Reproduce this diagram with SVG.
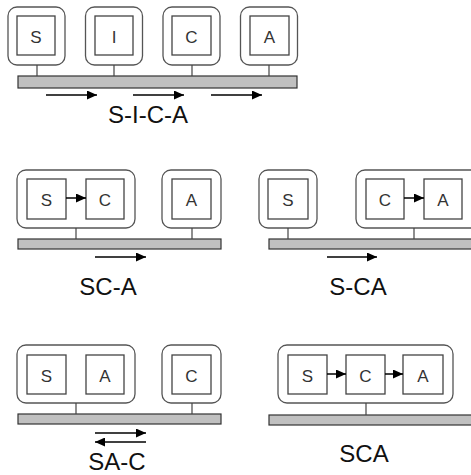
<svg xmlns="http://www.w3.org/2000/svg" width="471" height="475" viewBox="0 0 471 475">
<defs>
<marker id="ah" markerWidth="10" markerHeight="9" refX="10" refY="4.5" orient="auto" markerUnits="userSpaceOnUse">
<path d="M0,0 L10,4.5 L0,9 Z" fill="#000"/>
</marker>
<style>
.outer{fill:#fff;stroke:#555;stroke-width:1.3}
.inner{fill:#fff;stroke:#444;stroke-width:1.3}
.bar{fill:#c0c0c0;stroke:#333;stroke-width:1.2}
.stem{stroke:#444;stroke-width:1.2}
.arr{stroke:#000;stroke-width:1.5;fill:none}
.lbl{font-family:"Liberation Sans",Arial,sans-serif;font-size:17px;fill:#333;text-anchor:middle}
.cap{font-family:"Liberation Sans",Arial,sans-serif;font-size:24px;fill:#111;text-anchor:middle}
</style>
</defs>
<rect width="471" height="475" fill="#fff"/>

<!-- Panel 1: S-I-C-A -->
<g id="p1-bus"><rect class="bar" x="18" y="76" width="279" height="12"/></g>
<g id="p1-S"><rect class="outer" x="8" y="7" width="57" height="58" rx="9"/><rect class="inner" x="17" y="16" width="38" height="39"/><text class="lbl" x="36" y="43">S</text></g>
<g id="p1-I"><rect class="outer" x="85.5" y="7" width="57" height="58" rx="9"/><rect class="inner" x="95" y="16" width="38" height="39"/><text class="lbl" x="114" y="43">I</text></g>
<g id="p1-C"><rect class="outer" x="163" y="7" width="57" height="58" rx="9"/><rect class="inner" x="172" y="16" width="39" height="39"/><text class="lbl" x="191.5" y="43">C</text></g>
<g id="p1-A"><rect class="outer" x="240.5" y="7" width="57" height="58" rx="9"/><rect class="inner" x="250" y="16" width="39" height="39"/><text class="lbl" x="269.5" y="43">A</text></g>
<text class="cap" x="148" y="123">S-I-C-A</text>

<!-- Panel 2: SC-A -->
<g id="p2-bus"><rect class="bar" x="18" y="239" width="203" height="10"/></g>
<g id="p2-SC"><rect class="outer" x="17" y="170" width="118" height="58" rx="9"/><rect class="inner" x="27" y="179" width="39" height="40"/><text class="lbl" x="46.5" y="206">S</text><rect class="inner" x="86" y="179" width="38" height="40"/><text class="lbl" x="105" y="206">C</text></g>
<g id="p2-A"><rect class="outer" x="162" y="170" width="59" height="58" rx="9"/><rect class="inner" x="172" y="179" width="39" height="40"/><text class="lbl" x="191.5" y="206">A</text></g>
<text class="cap" x="108" y="295">SC-A</text>

<!-- Panel 3: S-CA -->
<g id="p3-bus"><rect class="bar" x="269" y="239" width="205" height="10"/></g>
<g id="p3-S"><rect class="outer" x="259" y="170" width="58" height="58" rx="9"/><rect class="inner" x="268" y="179" width="40" height="40"/><text class="lbl" x="288" y="206">S</text></g>
<g id="p3-CA"><rect class="outer" x="356" y="170" width="124" height="58" rx="9"/><rect class="inner" x="366" y="179" width="38" height="40"/><text class="lbl" x="385" y="206">C</text><rect class="inner" x="424" y="179" width="38" height="40"/><text class="lbl" x="443" y="206">A</text></g>
<text class="cap" x="358" y="295">S-CA</text>

<!-- Panel 4: SA-C -->
<g id="p4-bus"><rect class="bar" x="18" y="414" width="203" height="10"/></g>
<g id="p4-SA"><rect class="outer" x="17" y="345" width="118" height="58" rx="9"/><rect class="inner" x="27" y="355" width="39" height="39"/><text class="lbl" x="46.5" y="382">S</text><rect class="inner" x="86" y="355" width="38" height="39"/><text class="lbl" x="105" y="382">A</text></g>
<g id="p4-C"><rect class="outer" x="162" y="345" width="59" height="58" rx="9"/><rect class="inner" x="172" y="355" width="39" height="39"/><text class="lbl" x="191.5" y="382">C</text></g>
<text class="cap" x="117" y="470">SA-C</text>

<!-- Panel 5: SCA -->
<g id="p5-bus"><rect class="bar" x="269" y="415" width="205" height="10"/></g>
<g id="p5-SCA"><rect class="outer" x="278" y="345" width="175" height="58" rx="9"/><rect class="inner" x="288" y="355" width="39" height="39"/><text class="lbl" x="307.5" y="382">S</text><rect class="inner" x="346" y="355" width="39" height="39"/><text class="lbl" x="365.5" y="382">C</text><rect class="inner" x="403" y="355" width="40" height="39"/><text class="lbl" x="423" y="382">A</text></g>
<text class="cap" x="364" y="462">SCA</text>

<g id="connectors">
<line class="stem" x1="37" y1="65" x2="37" y2="76"/>
<line class="stem" x1="114" y1="65" x2="114" y2="76"/>
<line class="stem" x1="192" y1="65" x2="192" y2="76"/>
<line class="stem" x1="269" y1="65" x2="269" y2="76"/>
<line class="arr" x1="46" y1="95" x2="97" y2="95" marker-end="url(#ah)"/>
<line class="arr" x1="133" y1="95" x2="184" y2="95" marker-end="url(#ah)"/>
<line class="arr" x1="211" y1="95" x2="262" y2="95" marker-end="url(#ah)"/>

<line class="stem" x1="76" y1="228" x2="76" y2="239"/>
<line class="stem" x1="192" y1="228" x2="192" y2="239"/>
<line class="arr" x1="66" y1="198" x2="86" y2="198" marker-end="url(#ah)"/>
<line class="arr" x1="95" y1="257" x2="146" y2="257" marker-end="url(#ah)"/>

<line class="stem" x1="288" y1="228" x2="288" y2="239"/>
<line class="stem" x1="414" y1="228" x2="414" y2="239"/>
<line class="arr" x1="404" y1="198" x2="424" y2="198" marker-end="url(#ah)"/>
<line class="arr" x1="327" y1="257" x2="377" y2="257" marker-end="url(#ah)"/>

<line class="stem" x1="76" y1="403" x2="76" y2="414"/>
<line class="stem" x1="192" y1="403" x2="192" y2="414"/>
<line class="arr" x1="95" y1="433" x2="146" y2="433" marker-end="url(#ah)"/>
<line class="arr" x1="146" y1="442" x2="95" y2="442" marker-end="url(#ah)"/>

<line class="stem" x1="366" y1="403" x2="366" y2="415"/>
<line class="arr" x1="327" y1="374" x2="346" y2="374" marker-end="url(#ah)"/>
<line class="arr" x1="385" y1="374" x2="403" y2="374" marker-end="url(#ah)"/>
</g>
</svg>
